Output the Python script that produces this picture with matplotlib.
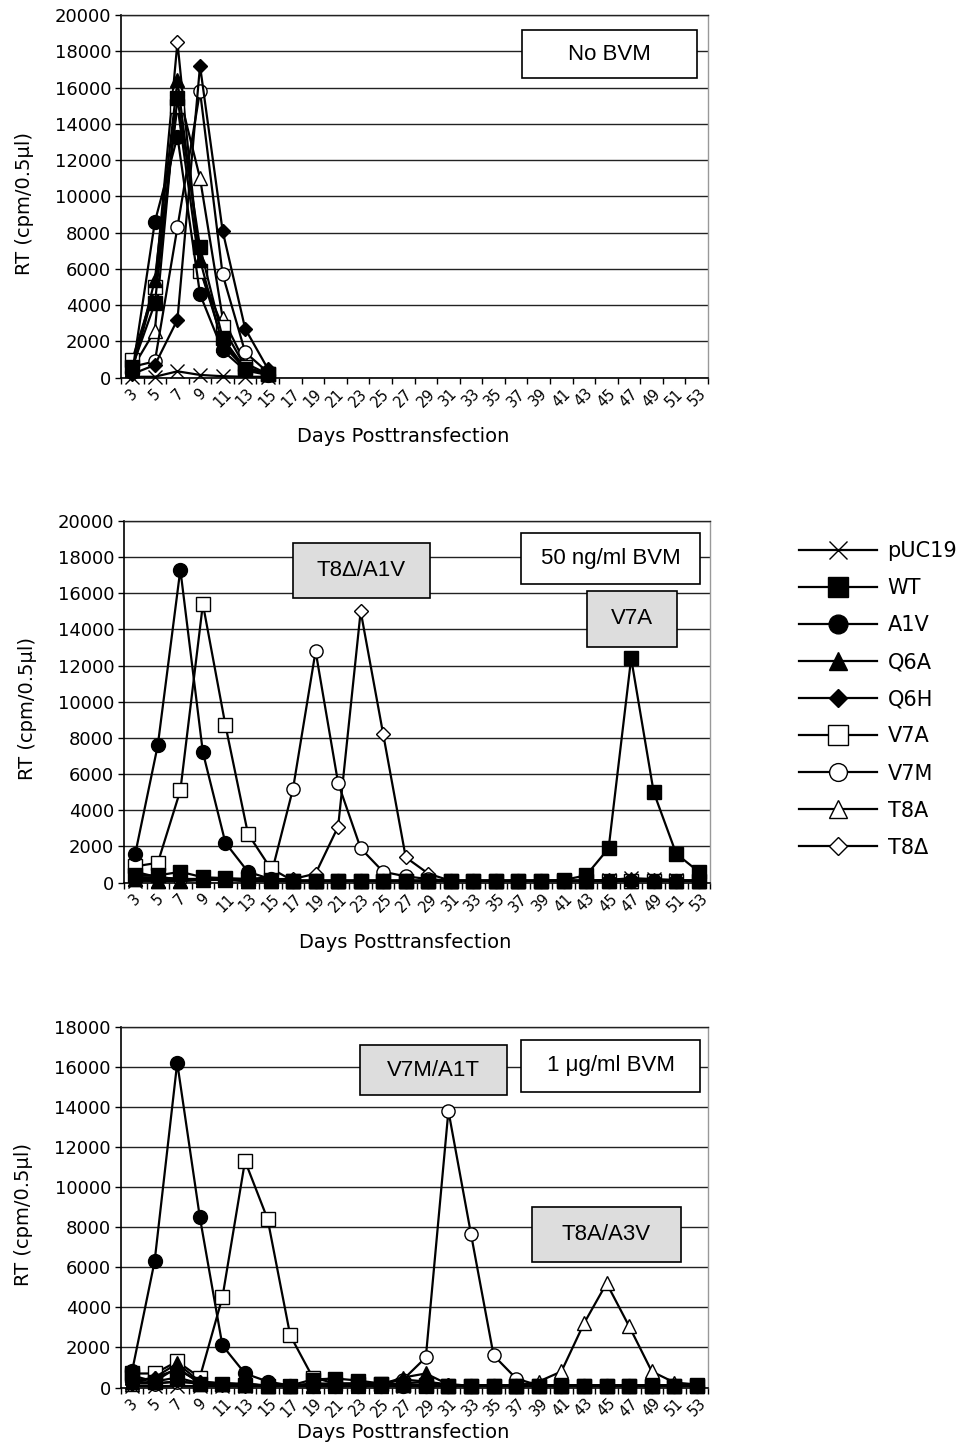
import numpy as np
import matplotlib
matplotlib.use("Agg")
import matplotlib.pyplot as plt
from matplotlib.patches import Rectangle

# categories (days posttransfection)
days = list(range(3, 54, 2))
names = ["pUC19", "WT", "A1V", "Q6A", "Q6H", "V7A", "V7M", "T8A", "T8\u0394"]

# panel 1: no BVM (days 3-15 only)
top_pUC19 = [50, 50, 350, 150, 80, 50, 50]
top_WT = [600, 4100, 15400, 7200, 2200, 500, 200]
top_A1V = [300, 8600, 13300, 4600, 1500, 400, 150]
top_Q6A = [400, 5400, 16400, 6500, 1800, 500, 200]
top_Q6H = [200, 700, 3200, 17200, 8100, 2700, 500]
top_V7A = [1000, 5000, 15000, 5900, 2800, 600, 200]
top_V7M = [600, 900, 8300, 15800, 5700, 1400, 300]
top_T8A = [500, 2600, 16000, 11000, 3300, 800, 200]
top_T8D = [400, 5000, 18500, 6000, 2000, 500, 150]

# panel 2: 50 ng/ml BVM
mid_pUC19 = [100, 100, 100, 150, 150, 100, 100, 100, 100, 100, 100, 100, 100,
             100, 100, 100, 100, 100, 100, 100, 100, 150, 250, 200, 150, 100]
mid_WT = [400, 400, 600, 300, 250, 200, 150, 100, 100, 100, 100, 100, 100,
          100, 100, 100, 100, 100, 100, 150, 400, 1900, 12400, 5000, 1600, 600]
mid_A1V = [1600, 7600, 17300, 7200, 2200, 600, 200, 100, 100, 100, 100, 100, 100,
           100, 100, 100, 100, 100, 100, 100, 100, 100, 100, 100, 100, 100]
mid_Q6A = [200, 100, 100, 200, 200, 100, 100, 100, 100, 100, 100, 100, 100,
           100, 100, 100, 100, 100, 100, 100, 100, 150, 200, 150, 100, 100]
mid_Q6H = [300, 300, 200, 200, 200, 100, 100, 100, 100, 100, 100, 100, 100,
           100, 100, 100, 100, 100, 100, 100, 100, 100, 100, 100, 100, 100]
mid_V7A = [900, 1100, 5100, 15400, 8700, 2700, 800, 100, 100, 100, 100, 100, 100,
           100, 100, 100, 100, 100, 100, 100, 100, 100, 100, 100, 100, 100]
mid_V7M = [600, 300, 200, 200, 200, 200, 300, 5200, 12800, 5500, 1900, 600, 350,
           200, 100, 100, 100, 100, 100, 100, 100, 100, 100, 100, 100, 100]
mid_T8A = [200, 100, 100, 150, 150, 100, 100, 100, 100, 100, 100, 100, 100,
           100, 100, 100, 100, 100, 100, 100, 100, 100, 100, 100, 100, 100]
mid_T8D = [300, 200, 200, 200, 200, 200, 200, 200, 500, 3100, 15000, 8200, 1400,
           500, 100, 100, 100, 100, 100, 100, 100, 100, 100, 100, 100, 100]

# panel 3: 1 ug/ml BVM
bot_pUC19 = [100, 100, 100, 100, 100, 100, 100, 100, 100, 100, 100, 100, 100,
             100, 100, 100, 100, 100, 100, 100, 100, 100, 100, 100, 100, 100]
bot_WT = [600, 300, 500, 200, 200, 150, 100, 100, 400, 450, 350, 200, 150,
          150, 100, 100, 100, 100, 100, 100, 100, 100, 100, 100, 100, 150]
bot_A1V = [800, 6300, 16200, 8500, 2100, 700, 300, 100, 100, 100, 100, 100, 100,
           100, 100, 100, 100, 100, 100, 100, 100, 100, 100, 100, 100, 100]
bot_Q6A = [300, 500, 1200, 300, 200, 150, 100, 100, 150, 150, 150, 150, 500,
           700, 150, 100, 100, 100, 100, 100, 100, 100, 100, 100, 100, 100]
bot_Q6H = [200, 500, 900, 300, 200, 150, 100, 100, 150, 150, 150, 150, 400,
           300, 150, 100, 100, 100, 100, 100, 100, 100, 100, 100, 100, 100]
bot_V7A = [700, 700, 1300, 500, 4500, 11300, 8400, 2600, 500, 200, 200, 200, 150,
           100, 100, 100, 100, 100, 100, 100, 100, 100, 100, 100, 100, 100]
bot_V7M = [300, 200, 300, 200, 200, 200, 100, 100, 200, 200, 200, 200, 400,
           1500, 13800, 7650, 1600, 450, 100, 100, 100, 100, 100, 100, 100, 100]
bot_T8A = [200, 300, 1000, 200, 200, 150, 100, 100, 100, 100, 100, 100, 200,
           300, 100, 100, 100, 100, 300, 800, 3200, 5200, 3050, 800, 250, 150]
bot_T8D = [200, 200, 300, 200, 150, 100, 100, 100, 100, 100, 100, 100, 100,
           100, 100, 100, 100, 100, 100, 100, 100, 100, 100, 100, 100, 100]

top_data = [top_pUC19, top_WT, top_A1V, top_Q6A, top_Q6H, top_V7A, top_V7M, top_T8A, top_T8D]
mid_data = [mid_pUC19, mid_WT, mid_A1V, mid_Q6A, mid_Q6H, mid_V7A, mid_V7M, mid_T8A, mid_T8D]
bot_data = [bot_pUC19, bot_WT, bot_A1V, bot_Q6A, bot_Q6H, bot_V7A, bot_V7M, bot_T8A, bot_T8D]

# marker styles: (marker, size, face)
styles = [("x", 10, "black"), ("s", 10.5, "black"), ("o", 10, "black"),
          ("^", 9.5, "black"), ("D", 7, "black"), ("s", 10.5, "white"),
          ("o", 9.5, "white"), ("^", 9.5, "white"), ("D", 7, "white")]

fig = plt.figure(figsize=(9.65, 14.47), dpi=100)

GRAY = "#dddddd"
BOXFONT = ["Liberation Sans", "DejaVu Sans"]


def setup(ax, ymax):
    ax.set_xlim(0, 26)
    ax.set_ylim(0, ymax)
    ax.set_yticks(np.arange(0, ymax + 1, 2000))
    ax.yaxis.grid(True, color="#222222", lw=1.0)
    ax.set_axisbelow(True)
    ax.set_xticks(np.arange(27))
    ax.set_xticks(np.arange(26) + 0.5, minor=True)
    ax.set_xticklabels([str(d) for d in days], minor=True, rotation=45,
                       ha="center", va="top")
    ax.tick_params(axis="x", which="major", direction="out", length=4,
                   width=1, labelbottom=False)
    ax.tick_params(axis="x", which="minor", length=0, pad=6, labelsize=10.5)
    ax.tick_params(axis="y", direction="out", length=4, width=1, pad=3,
                   labelsize=13)
    for s in ["left", "bottom"]:
        ax.spines[s].set_color("black")
        ax.spines[s].set_linewidth(1.2)
    ax.spines["top"].set_color("#222222")
    ax.spines["top"].set_linewidth(1.0)
    ax.spines["right"].set_color("#999999")
    ax.spines["right"].set_linewidth(1.0)
    ax.text(-0.165, 0.48, "RT (cpm/0.5\u03bcl)", rotation=90, fontsize=14,
            ha="center", va="center", transform=ax.transAxes)


def draw(ax, data):
    lines = []
    n = len(data)
    for i, (vals, (m, ms, fc)) in enumerate(zip(data, styles)):
        x = np.arange(len(vals)) + 0.5
        ln, = ax.plot(x, vals, color="black", lw=1.6, marker=m, ms=ms,
                      mfc=fc, mec="black", mew=1.0, zorder=10 + (n - i),
                      clip_on=False)
        lines.append(ln)
    return lines


def box(ax, x0, y0, x1, y1, text, fc):
    ax.add_patch(Rectangle((x0, y0), x1 - x0, y1 - y0, transform=ax.transAxes,
                           fc=fc, ec="black", lw=1.2, zorder=30, clip_on=False))
    ax.text((x0 + x1) / 2, (y0 + y1) / 2, text, transform=ax.transAxes,
            ha="center", va="center", fontsize=16, family=BOXFONT, zorder=31)


# panel 1
ax1 = fig.add_axes([0.1254, 0.7390, 0.6083, 0.2506])
setup(ax1, 20000)
draw(ax1, top_data)
ax1.text(0.48, -0.163, "Days Posttransfection", transform=ax1.transAxes,
         ha="center", va="center", fontsize=14)
box(ax1, 0.683, 0.826, 0.981, 0.959, "No BVM", "white")

# panel 2
ax2 = fig.add_axes([0.1285, 0.3900, 0.6073, 0.2501])
setup(ax2, 20000)
mid_lines = draw(ax2, mid_data)
ax2.text(0.48, -0.164, "Days Posttransfection", transform=ax2.transAxes,
         ha="center", va="center", fontsize=14)
box(ax2, 0.677, 0.825, 0.983, 0.966, "50 ng/ml BVM", "white")
box(ax2, 0.288, 0.786, 0.522, 0.938, "T8\u0394/A1V", GRAY)
box(ax2, 0.790, 0.652, 0.943, 0.806, "V7A", GRAY)

# panel 3
ax3 = fig.add_axes([0.1251, 0.0411, 0.6089, 0.2494])
setup(ax3, 18000)
draw(ax3, bot_data)
ax3.text(0.48, -0.126, "Days Posttransfection", transform=ax3.transAxes,
         ha="center", va="center", fontsize=14)
box(ax3, 0.682, 0.819, 0.986, 0.963, "1 \u03bcg/ml BVM", "white")
box(ax3, 0.407, 0.810, 0.657, 0.949, "V7M/A1T", GRAY)
box(ax3, 0.700, 0.348, 0.953, 0.501, "T8A/A3V", GRAY)

# legend at the right of the middle panel
fig.legend(mid_lines, names, loc="upper left",
           bbox_to_anchor=(799 / 965, 1 - 541 / 1447), frameon=False,
           fontsize=15, handlelength=3.75, handletextpad=0.5,
           labelspacing=0.82, borderpad=0, borderaxespad=0, markerscale=1.35)

fig.savefig("out.png", dpi=100)
